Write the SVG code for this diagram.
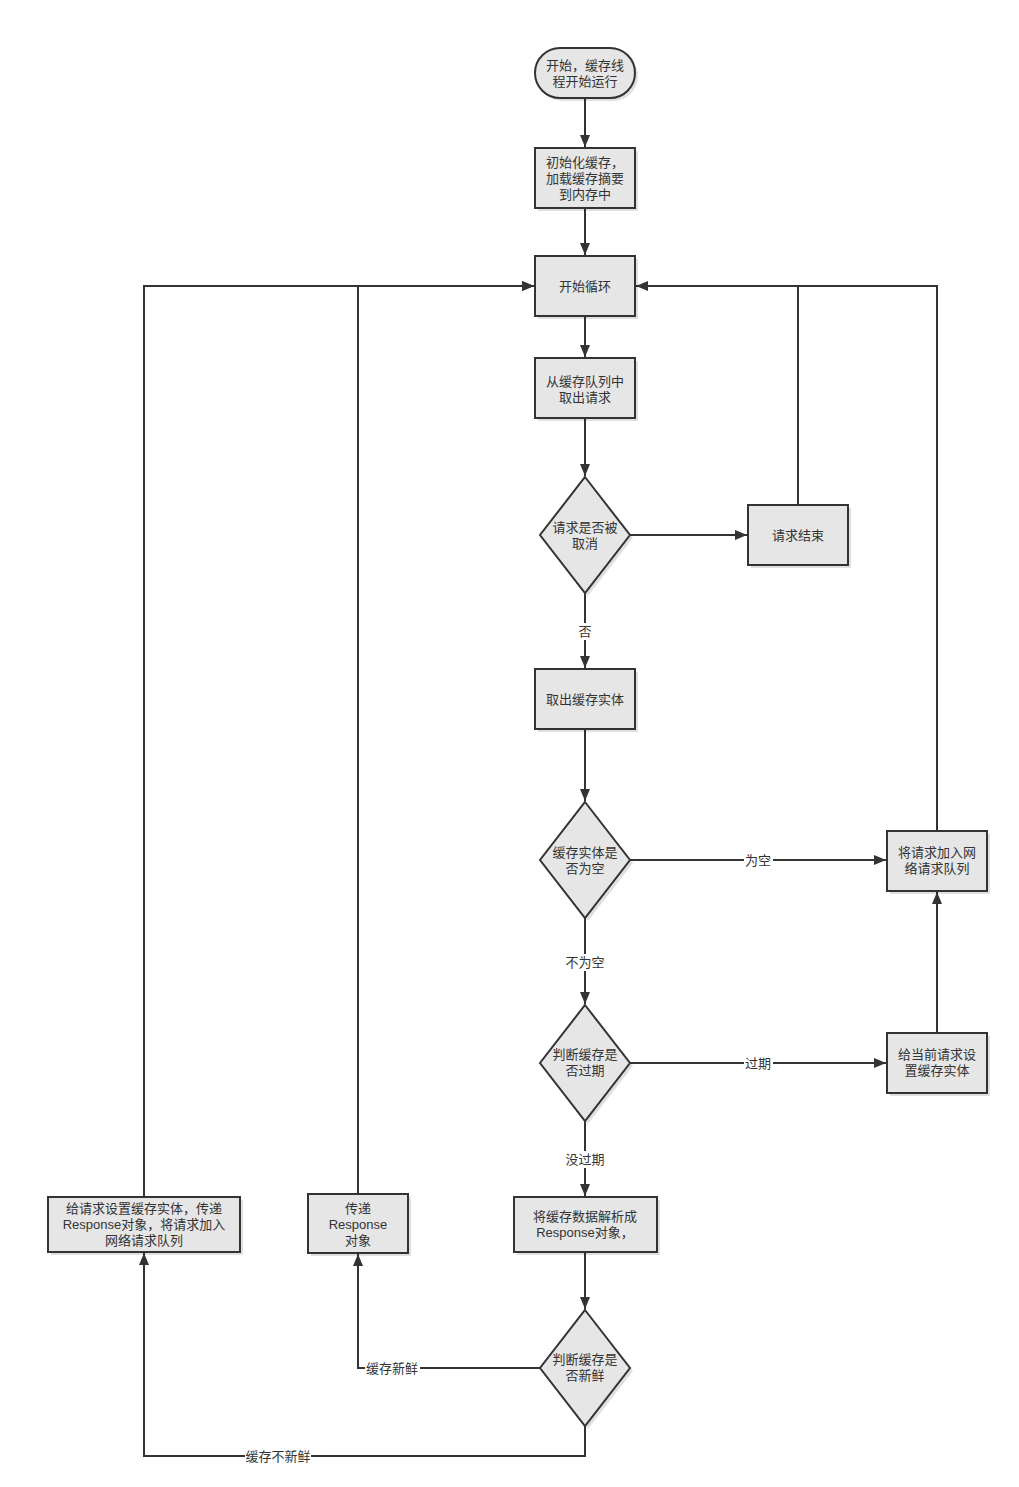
<svg xmlns="http://www.w3.org/2000/svg" width="1019" height="1487" viewBox="0 0 1019 1487">
<style>
.n{fill:#e6e6e6;stroke:#333;stroke-width:2}
.sh{fill:#000;opacity:0.12}
.t{font-family:"Liberation Sans","Noto Sans CJK SC",sans-serif;font-size:13px;fill:#333;text-anchor:middle}
.c{fill:none;stroke:#333;stroke-width:2}
.lb{fill:#fff}
</style>
<defs>
<marker id="a" viewBox="0 0 10 10" refX="10" refY="5" markerWidth="6" markerHeight="6" orient="auto" markerUnits="userSpaceOnUse" style="overflow:visible">
<path d="M0,0 L10,5 L0,10 z" fill="#333"/>
</marker>
<marker id="ah" viewBox="0 0 12 10" refX="12" refY="5" markerWidth="12" markerHeight="10" orient="auto" markerUnits="userSpaceOnUse">
<path d="M0,0 L12,5 L0,10 z" fill="#333"/>
</marker>
</defs>
<rect width="1019" height="1487" fill="#fff"/>
<g id="connectors">
<path class="c" d="M585,98 V147" marker-end="url(#ah)"/>
<path class="c" d="M585,208 V255" marker-end="url(#ah)"/>
<path class="c" d="M585,316 V357" marker-end="url(#ah)"/>
<path class="c" d="M585,418 V476" marker-end="url(#ah)"/>
<path class="c" d="M630,535 H747" marker-end="url(#ah)"/>
<path class="c" d="M798,505 V286"/>
<path class="c" d="M937,831 V286 H636" marker-end="url(#ah)"/>
<path class="c" d="M585,593 V668" marker-end="url(#ah)"/>
<path class="c" d="M585,729 V801" marker-end="url(#ah)"/>
<path class="c" d="M630,860 H886" marker-end="url(#ah)"/>
<path class="c" d="M585,918 V1004" marker-end="url(#ah)"/>
<path class="c" d="M630,1063 H886" marker-end="url(#ah)"/>
<path class="c" d="M937,1033 V892" marker-end="url(#ah)"/>
<path class="c" d="M585,1121 V1196" marker-end="url(#ah)"/>
<path class="c" d="M585,1252 V1309" marker-end="url(#ah)"/>
<path class="c" d="M540,1368 H358 V1254" marker-end="url(#ah)"/>
<path class="c" d="M585,1426 V1456 H144 V1253" marker-end="url(#ah)"/>
<path class="c" d="M358,1194 V286 H534" marker-end="url(#ah)"/>
<path class="c" d="M144,1197 V286 H534" marker-end="url(#ah)"/>
<rect class="lb" x="577" y="623" width="16" height="17"/>
<text class="t" x="585" y="636">否</text>
<rect class="lb" x="744" y="852" width="29" height="17"/>
<text class="t" x="758" y="865">为空</text>
<rect class="lb" x="564" y="954" width="42" height="17"/>
<text class="t" x="585" y="967">不为空</text>
<rect class="lb" x="744" y="1055" width="29" height="17"/>
<text class="t" x="758" y="1068">过期</text>
<rect class="lb" x="564" y="1151" width="42" height="17"/>
<text class="t" x="585" y="1164">没过期</text>
<rect class="lb" x="365" y="1360" width="55" height="17"/>
<text class="t" x="392" y="1373">缓存新鲜</text>
<rect class="lb" x="245" y="1448" width="66" height="17"/>
<text class="t" x="278" y="1461">缓存不新鲜</text>
</g>
<g id="start">
<rect class="sh" x="538" y="51" width="100" height="50" rx="25"/>
<rect class="n" x="535" y="48" width="100" height="50" rx="25"/>
<text class="t" x="585" y="70">开始，缓存线</text>
<text class="t" x="585" y="86">程开始运行</text>
</g>
<g id="init">
<rect class="sh" x="538" y="151" width="100" height="60"/>
<rect class="n" x="535" y="148" width="100" height="60"/>
<text class="t" x="585" y="167">初始化缓存，</text>
<text class="t" x="585" y="183">加载缓存摘要</text>
<text class="t" x="585" y="199">到内存中</text>
</g>
<g id="loop">
<rect class="sh" x="538" y="259" width="100" height="60"/>
<rect class="n" x="535" y="256" width="100" height="60"/>
<text class="t" x="585" y="291">开始循环</text>
</g>
<g id="take">
<rect class="sh" x="538" y="361" width="100" height="60"/>
<rect class="n" x="535" y="358" width="100" height="60"/>
<text class="t" x="585" y="386">从缓存队列中</text>
<text class="t" x="585" y="402">取出请求</text>
</g>
<g id="d1">
<path class="sh" d="M588,480 L633,538 L588,596 L543,538 z"/>
<path class="n" d="M585,477 L630,535 L585,593 L540,535 z"/>
<text class="t" x="585" y="532">请求是否被</text>
<text class="t" x="585" y="548">取消</text>
</g>
<g id="end">
<rect class="sh" x="751" y="508" width="100" height="60"/>
<rect class="n" x="748" y="505" width="100" height="60"/>
<text class="t" x="798" y="540">请求结束</text>
</g>
<g id="entity">
<rect class="sh" x="538" y="672" width="100" height="60"/>
<rect class="n" x="535" y="669" width="100" height="60"/>
<text class="t" x="585" y="704">取出缓存实体</text>
</g>
<g id="d2">
<path class="sh" d="M588,805 L633,863 L588,921 L543,863 z"/>
<path class="n" d="M585,802 L630,860 L585,918 L540,860 z"/>
<text class="t" x="585" y="857">缓存实体是</text>
<text class="t" x="585" y="873">否为空</text>
</g>
<g id="net">
<rect class="sh" x="890" y="834" width="100" height="60"/>
<rect class="n" x="887" y="831" width="100" height="60"/>
<text class="t" x="937" y="857">将请求加入网</text>
<text class="t" x="937" y="873">络请求队列</text>
</g>
<g id="d3">
<path class="sh" d="M588,1008 L633,1066 L588,1124 L543,1066 z"/>
<path class="n" d="M585,1005 L630,1063 L585,1121 L540,1063 z"/>
<text class="t" x="585" y="1059">判断缓存是</text>
<text class="t" x="585" y="1075">否过期</text>
</g>
<g id="setentity">
<rect class="sh" x="890" y="1036" width="100" height="60"/>
<rect class="n" x="887" y="1033" width="100" height="60"/>
<text class="t" x="937" y="1059">给当前请求设</text>
<text class="t" x="937" y="1075">置缓存实体</text>
</g>
<g id="parse">
<rect class="sh" x="517" y="1200" width="143" height="55"/>
<rect class="n" x="514" y="1197" width="143" height="55"/>
<text class="t" x="585" y="1221">将缓存数据解析成</text>
<text class="t" x="585" y="1237">Response对象，</text>
</g>
<g id="d4">
<path class="sh" d="M588,1313 L633,1371 L588,1429 L543,1371 z"/>
<path class="n" d="M585,1310 L630,1368 L585,1426 L540,1368 z"/>
<text class="t" x="585" y="1364">判断缓存是</text>
<text class="t" x="585" y="1380">否新鲜</text>
</g>
<g id="deliver">
<rect class="sh" x="311" y="1197" width="100" height="59"/>
<rect class="n" x="308" y="1194" width="100" height="59"/>
<text class="t" x="358" y="1213">传递</text>
<text class="t" x="358" y="1229">Response</text>
<text class="t" x="358" y="1245">对象</text>
</g>
<g id="deliverandnet">
<rect class="sh" x="51" y="1200" width="192" height="55"/>
<rect class="n" x="48" y="1197" width="192" height="55"/>
<text class="t" x="144" y="1213">给请求设置缓存实体，传递</text>
<text class="t" x="144" y="1229">Response对象，将请求加入</text>
<text class="t" x="144" y="1245">网络请求队列</text>
</g>
</svg>
